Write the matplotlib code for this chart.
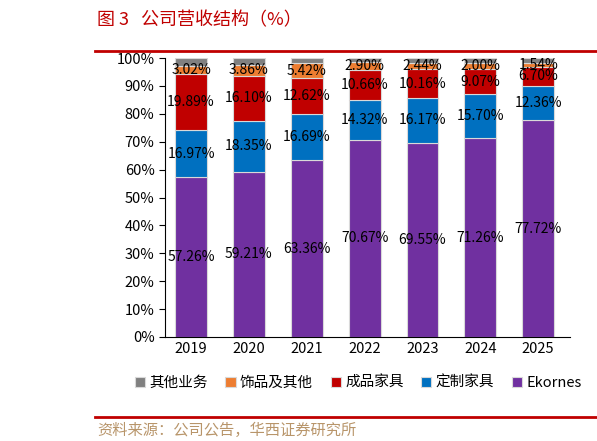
import matplotlib
matplotlib.use('Agg')
import matplotlib.pyplot as plt
import numpy as np

plt.rcParams['font.family'] = ['Noto Sans CJK SC', 'DejaVu Sans']

years = ['2019', '2020', '2021', '2022', '2023', '2024', '2025']
ekornes = [57.26, 59.21, 63.36, 70.67, 69.55, 71.26, 77.72]
custom = [16.97, 18.35, 16.69, 14.32, 16.17, 15.70, 12.36]
finished = [19.89, 16.10, 12.62, 10.66, 10.16, 9.07, 6.70]
decor = [3.02, 3.86, 5.42, 2.90, 2.44, 2.00, 1.54]
other = [100 - a - b - c - d for a, b, c, d in zip(ekornes, custom, finished, decor)]

series = [('Ekornes', ekornes, '#7030A0', True),
          ('定制家具', custom, '#0070C0', True),
          ('成品家具', finished, '#C00000', True),
          ('饰品及其他', decor, '#ED7D31', True),
          ('其他业务', other, '#808080', False)]

fig = plt.figure(figsize=(5.97, 4.41), dpi=100)
ax = fig.add_axes([165/597, 1 - 337/441, 405/597, 279/441])
x = np.arange(len(years))
bottom = np.zeros(len(years))
handles = {}
for name, vals, col, lab in series:
    vals = np.array(vals)
    b = ax.bar(x, vals, 0.55, bottom=bottom, color=col, edgecolor='#D9D9D9', linewidth=0.8)
    handles[name] = b
    if lab:
        for xi, bi, v in zip(x, bottom, vals):
            ax.text(xi, bi + v / 2, f'{v:.2f}%', ha='center', va='center', fontsize=10)
    bottom += vals

ax.set_xlim(-0.45, 6.55)
ax.set_ylim(0, 100)
ax.set_yticks(range(0, 101, 10))
ax.set_yticklabels([f'{v}%' for v in range(0, 101, 10)], fontsize=10.5)
ax.set_xticks(x)
ax.set_xticklabels(years, fontsize=10.5)
ax.tick_params(axis='x', length=0)
ax.tick_params(axis='y', direction='out', length=4)
for s in ['top', 'right']:
    ax.spines[s].set_visible(False)

order = ['其他业务', '饰品及其他', '成品家具', '定制家具', 'Ekornes']
fig.legend([handles[n] for n in order], order, loc='center', bbox_to_anchor=(0.6, 1 - 383/441),
           ncol=5, frameon=False, fontsize=10.5, handlelength=0.7, handleheight=0.7,
           handletextpad=0.3, columnspacing=1.2)

fig.text(97/597, 1 - 20/441, '图 3   公司营收结构（%）', color='#C00000', fontsize=13, va='center')
fig.add_artist(plt.Line2D([95/597, 1], [1 - 51/441] * 2, color='#C00000', lw=2))
fig.add_artist(plt.Line2D([95/597, 1], [1 - 417/441] * 2, color='#C00000', lw=2))
fig.text(97/597, 1 - 430/441, '资料来源：公司公告，华西证券研究所', color='#B8956A', fontsize=11, va='center')

fig.savefig('out.png', dpi=100)
